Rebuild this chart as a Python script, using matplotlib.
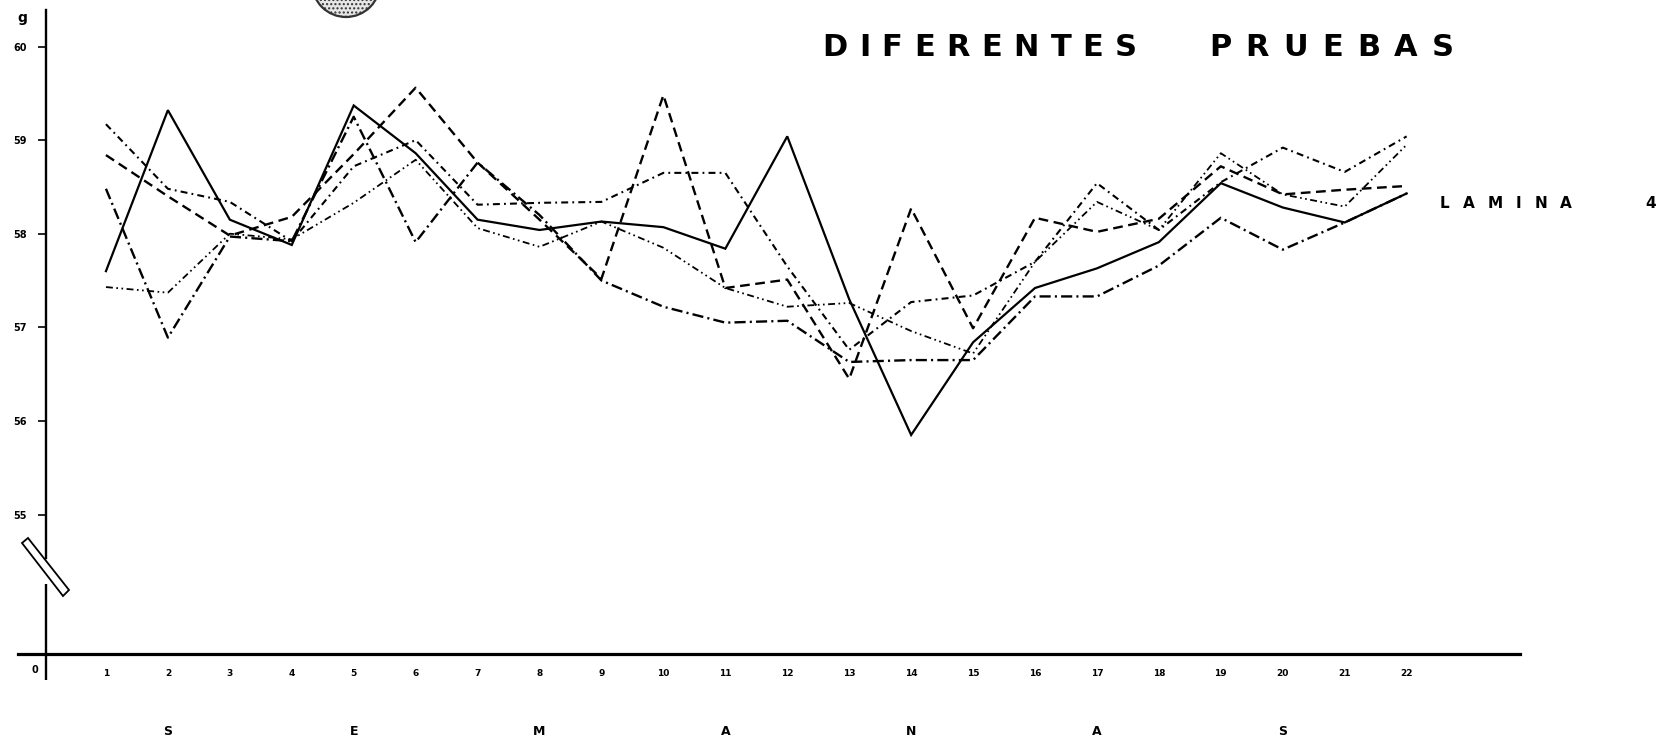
import matplotlib
matplotlib.use('Agg')
import matplotlib.pyplot as plt
from matplotlib.patches import Polygon, Ellipse

# semanas (eje x) y pesos en gramos de las cinco pruebas
semanas = list(range(1, 23))

linea_solida = [57.60, 59.32, 58.15, 57.88, 59.37, 58.86, 58.15, 58.04, 58.13, 58.07, 57.84,
                59.04, 57.30, 55.85, 56.84, 57.42, 57.63, 57.91, 58.54, 58.28, 58.12, 58.43]
linea_trazos = [58.84, 58.40, 57.98, 58.18, 58.85, 59.56, 58.76, 58.15, 57.52, 59.48, 57.42,
                57.51, 56.45, 58.27, 56.99, 58.17, 58.02, 58.16, 58.72, 58.42, 58.47, 58.51]
linea_trazo_punto = [59.17, 58.48, 58.34, 57.92, 58.72, 59.00, 58.31, 58.33, 58.34, 58.65, 58.65,
                     57.65, 56.76, 57.27, 57.34, 57.70, 58.54, 58.04, 58.55, 58.92, 58.66, 59.04]
linea_trazo_largo = [58.48, 56.89, 57.97, 57.92, 59.25, 57.91, 58.76, 58.20, 57.50, 57.22, 57.05,
                     57.07, 56.63, 56.65, 56.65, 57.33, 57.33, 57.66, 58.17, 57.83, 58.12, 58.43]
linea_dos_puntos = [57.43, 57.37, 58.00, 57.94, 58.33, 58.79, 58.06, 57.86, 58.13, 57.85, 57.42,
                    57.22, 57.26, 56.96, 56.72, 57.70, 58.34, 58.04, 58.86, 58.42, 58.29, 58.95]

y_ticks = [55, 56, 57, 58, 59, 60]
letras = ['S', 'E', 'M', 'A', 'N', 'A', 'S']
letras_x = [2, 5, 8, 11, 14, 17, 20]

plt.rcParams['lines.scale_dashes'] = False

W, H = 1664, 743
fig = plt.figure(figsize=(W / 100, H / 100), dpi=100)


def fx(px):
    return px / W


def fy(py):
    return 1 - py / H


def spaced_word(word, x0, x1, ypx, size):
    # write a word letter by letter so that it fills x0..x1 (pixels), like the wide lettering
    renderer = fig.canvas.get_renderer()
    texts = [fig.text(0, fy(ypx), c, fontsize=size, fontweight='bold', ha='left', va='center')
             for c in word]
    widths = [t.get_window_extent(renderer).width for t in texts]
    gap = (x1 - x0 - sum(widths)) / max(len(word) - 1, 1)
    x = x0
    for t, w in zip(texts, widths):
        t.set_x(fx(x))
        x += w + gap


ax = fig.add_axes([fx(18), fy(654), fx(1520) - fx(18), fy(10) - fy(654)])
ax.set_xlim(-0.42, 23.83)
ax.set_ylim(53.51, 60.39)

# Lines
ax.plot(semanas, linea_solida, color='black', lw=1.6, solid_joinstyle='miter')
ax.plot(semanas, linea_trazos, color='black', lw=1.7, dashes=(7, 4))
ax.plot(semanas, linea_trazo_punto, color='black', lw=1.5, dashes=(5, 3, 1.3, 3))
ax.plot(semanas, linea_trazo_largo, color='black', lw=1.7, dashes=(8, 3, 1.5, 3))
ax.plot(semanas, linea_dos_puntos, color='black', lw=1.3, dashes=(5, 2.5, 1.2, 2.5, 1.2, 2.5))

# Axes
for s in ['top', 'right']:
    ax.spines[s].set_visible(False)
ax.spines['left'].set_position(('data', 0.04))
ax.spines['left'].set_bounds(54.54, 60.39)
ax.spines['left'].set_linewidth(1.7)
ax.spines['bottom'].set_linewidth(2.3)
ax.vlines(0.04, 53.23, 54.26, color='black', lw=1.7, clip_on=False)

ax.set_yticks(y_ticks)
ax.set_yticklabels([str(v) for v in y_ticks], fontsize=7, fontweight='bold')
ax.tick_params(axis='y', direction='out', length=6, width=1.2, pad=8)

ax.set_xticks(semanas)
ax.set_xticklabels([str(s) for s in semanas], fontsize=6.5, fontweight='bold')
ax.tick_params(axis='x', length=0, pad=11)

# axis break symbol
p = [(22, 543), (28, 538), (69, 590), (63, 596)]
fig.patches.append(Polygon([(fx(a), fy(b)) for a, b in p], closed=True, transform=fig.transFigure,
                           facecolor='white', edgecolor='black', lw=1.3, zorder=5))

# hole punch mark at the top
fig.patches.append(Ellipse((fx(346), fy(-17)), 68 / W, 68 / H, transform=fig.transFigure,
                           facecolor='#e6e6e6', edgecolor='#333333', lw=1.6, hatch='....'))

fig.text(fx(35), fy(670), '0', fontsize=7, fontweight='bold', ha='center', va='center')
fig.text(fx(22), fy(18), 'g', fontsize=10, fontweight='bold', ha='center', va='center')

# Titles
spaced_word('DIFERENTES', 822, 1137, 48, 22)
spaced_word('PRUEBAS', 1209, 1454, 48, 22)
spaced_word('LAMINA', 1440, 1572, 203, 11)
fig.text(fx(1651), fy(203), '4', fontsize=11, fontweight='bold', ha='center', va='center')

for x, letra in zip(letras_x, letras):
    ax.text(x, -0.121, letra, transform=ax.get_xaxis_transform(), fontsize=9,
            fontweight='bold', ha='center', va='center')

fig.savefig('out.png', dpi=100, facecolor='white')
